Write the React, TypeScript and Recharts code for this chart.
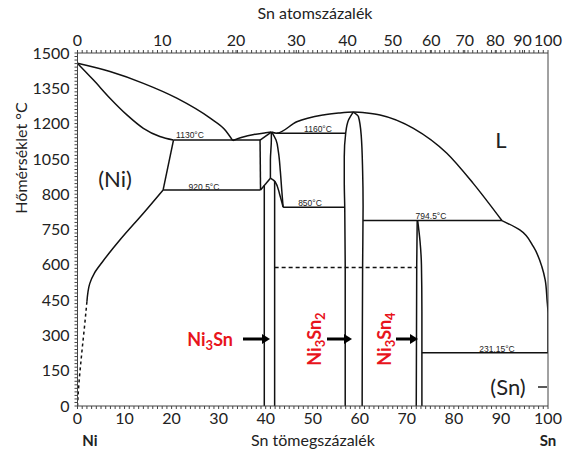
import React from 'react'
import { ComposedChart, Line, XAxis, YAxis } from 'recharts'

// x = Sn weight %, t = temperature in °C
const niLiquidus = [[0, 1456], [6.9, 1421], [14.0, 1371], [21.1, 1308], [28.2, 1223], [31.5, 1170], [33.0, 1128]]
const niSolidus = [[0, 1456], [3.4, 1385], [6.9, 1308], [10.5, 1237], [14.0, 1180], [17.5, 1145], [20.4, 1130]]
const eutLiquidus = [[33.0, 1128], [35.0, 1142], [37.5, 1154], [40.0, 1161], [41.2, 1164]]
const eutectic1130 = [[20.4, 1130], [38.8, 1130]]
const solvusTop = [[20.4, 1130], [18.2, 918]]
const eutectoid920 = [[18.2, 918], [38.9, 918]]
const solvusNi = [[18.2, 918], [14.0, 819], [9.0, 705], [5.2, 610], [3.6, 565], [2.6, 520], [2.0, 443]]
const solvusNiDashed = [[2.0, 443], [1.5, 340], [0.9, 224], [0.2, 68], [0, 0]]
const betaLeft = [[38.8, 1130], [38.9, 918]]
const betaTop = [[38.8, 1130], [41.2, 1164]]
const betaInner = [[41.2, 1164], [41.2, 1130], [41.0, 1045], [41.0, 968]]
const betaRight = [[41.3, 1164], [42.2, 1130], [42.7, 1080], [43.1, 1000], [43.4, 920], [43.7, 845]]
const lowPeakLeft = [[38.9, 918], [41.0, 968]]
const lowPeakRight = [[41.0, 968], [42.0, 953], [43.0, 897], [43.7, 845]]
const ni3snLeft = [[39.7, 938], [39.7, 0]]
const ni3snRight = [[41.9, 955], [41.9, 0]]
const domeLiquidus = [[41.2, 1164], [42.3, 1159], [46.6, 1208], [52.2, 1237], [55.5, 1245], [58.6, 1249], [61.5, 1245], [64.3, 1237], [71.4, 1180], [78.5, 1074], [84.1, 946], [90.2, 788]]
const eutectic1160 = [[42.3, 1159], [57.0, 1159]]
const ni3sn2Left = [[58.6, 1249], [57.6, 1215], [57.0, 1159], [56.7, 1060], [56.7, 950], [56.8, 845], [56.9, 600], [56.9, 0]]
const ni3sn2Right = [[58.6, 1249], [59.7, 1230], [60.3, 1150], [60.6, 1000], [60.7, 850], [60.6, 600], [60.5, 0]]
const eutectoid850 = [[43.7, 845], [56.8, 845]]
const peritectic794 = [[60.7, 788], [90.2, 788]]
const ni3sn4Left = [[72.2, 788], [72.1, 600], [72.0, 0]]
const ni3sn4Right = [[72.3, 788], [72.8, 700], [73.1, 600], [73.2, 400], [73.2, 0]]
const snLiquidus = [[90.2, 788], [94.0, 748], [96.9, 677], [98.7, 592], [99.4, 536], [99.8, 450], [100, 394], [100, 226]]
const eutectic231 = [[73.2, 226], [100, 226]]
const dashed600 = [[41.9, 589], [72.0, 589]]

const wtTicks = [0, 10, 20, 30, 40, 50, 60, 70, 80, 90, 100]
const atTickPos = [0, 18.0, 33.7, 46.5, 57.4, 67.0, 75.2, 82.3, 88.8, 94.6, 100]
const atTickLabels = ['0', '10', '20', '30', '40', '50', '60', '70', '80', '90', '100']
const tTicks = [0, 150, 300, 450, 600, 750, 900, 1050, 1200, 1350, 1500]
const tTickLabels = ['0', '150', '300', '450', '600', '750', '800', '1050', '1200', '1350', '1500']

const minorX = Array.from({ length: 101 }, (_, i) => i)
const minorT = Array.from({ length: 101 }, (_, i) => i * 15)

type Seg = { id: string; pts: number[][]; curve: any; dash?: string }
const segments: Seg[] = [
  { id: 'niLiq', pts: niLiquidus, curve: 'monotone' },
  { id: 'niSol', pts: niSolidus, curve: 'monotone' },
  { id: 'eutLiq', pts: eutLiquidus, curve: 'monotone' },
  { id: 'e1130', pts: eutectic1130, curve: 'linear' },
  { id: 'solTop', pts: solvusTop, curve: 'linear' },
  { id: 'e920', pts: eutectoid920, curve: 'linear' },
  { id: 'solNi', pts: solvusNi, curve: 'monotoneY' },
  { id: 'solNiD', pts: solvusNiDashed, curve: 'monotoneY', dash: '3 3' },
  { id: 'bL', pts: betaLeft, curve: 'linear' },
  { id: 'bT', pts: betaTop, curve: 'linear' },
  { id: 'bI', pts: betaInner, curve: 'monotoneY' },
  { id: 'bR', pts: betaRight, curve: 'monotoneY' },
  { id: 'lpL', pts: lowPeakLeft, curve: 'linear' },
  { id: 'lpR', pts: lowPeakRight, curve: 'monotoneY' },
  { id: 'n3L', pts: ni3snLeft, curve: 'linear' },
  { id: 'n3R', pts: ni3snRight, curve: 'linear' },
  { id: 'dome', pts: domeLiquidus, curve: 'monotone' },
  { id: 'e1160', pts: eutectic1160, curve: 'linear' },
  { id: 'n32L', pts: ni3sn2Left, curve: 'monotoneY' },
  { id: 'n32R', pts: ni3sn2Right, curve: 'monotoneY' },
  { id: 'e850', pts: eutectoid850, curve: 'linear' },
  { id: 'p794', pts: peritectic794, curve: 'linear' },
  { id: 'n34L', pts: ni3sn4Left, curve: 'linear' },
  { id: 'n34R', pts: ni3sn4Right, curve: 'monotoneY' },
  { id: 'snLiq', pts: snLiquidus, curve: 'monotoneY' },
  { id: 'e231', pts: eutectic231, curve: 'linear' },
  { id: 'd600', pts: dashed600, curve: 'linear', dash: '4 3' },
]

const font = 'Lato, "Open Sans", sans-serif'
const red = '#e8141c'

const Arrow = ({ x1, x2, y }: { x1: number; x2: number; y: number }) => (
  <g>
    <line x1={x1} y1={y} x2={x2 - 7} y2={y} stroke="#000" strokeWidth={3} />
    <polygon points={`${x2 - 8},${y - 5} ${x2},${y} ${x2 - 8},${y + 5}`} fill="#000" />
  </g>
)

const small = { fontSize: 8.5, fontFamily: '"Liberation Sans Narrow", "Liberation Sans", sans-serif', fill: '#222', textAnchor: 'middle' as const }

export default function App() {
  return (
    <div style={{ position: 'fixed', left: 0, top: 0, width: 573, height: 452, background: '#fff' }}>
      <ComposedChart width={573} height={452} margin={{ top: 23, right: 20, bottom: 16, left: 17.5 }}>
        <XAxis
          xAxisId="wt"
          dataKey="x"
          type="number"
          domain={[0, 100]}
          ticks={minorX}
          interval={0}
          height={30}
          tickSize={3}
          tickMargin={4}
          stroke="#444"
          tick={{ fontSize: 16, fill: '#222', fontFamily: font }}
          tickFormatter={(v: number) => (wtTicks.includes(v) ? String(v) : '')}
          allowDataOverflow
        />
        <XAxis
          xAxisId="at"
          orientation="top"
          dataKey="x"
          type="number"
          domain={[0, 100]}
          ticks={[...atTickPos, ...minorX.filter((v) => !atTickPos.includes(v))]}
          interval={0}
          height={30}
          tickSize={3}
          tickMargin={4}
          stroke="#444"
          tick={{ fontSize: 16, fill: '#222', fontFamily: font }}
          tickFormatter={(v: number) => {
            const i = atTickPos.indexOf(v)
            return i >= 0 ? atTickLabels[i] : ''
          }}
          allowDataOverflow
        />
        <YAxis
          yAxisId="T"
          type="number"
          domain={[0, 1500]}
          ticks={minorT}
          interval={0}
          width={60}
          tickSize={3}
          tickMargin={5}
          stroke="#444"
          tick={{ fontSize: 16, fill: '#222', fontFamily: font }}
          tickFormatter={(v: number) => {
            const i = tTicks.indexOf(v)
            return i >= 0 ? tTickLabels[i] : ''
          }}
          allowDataOverflow
        />
        <YAxis
          yAxisId="R"
          orientation="right"
          type="number"
          domain={[0, 1500]}
          ticks={minorT}
          interval={0}
          width={5}
          tickSize={3}
          stroke="#444"
          tick={false}
          allowDataOverflow
        />
        {segments.map((s) => (
          <Line
            key={s.id}
            xAxisId="wt"
            yAxisId="T"
            data={s.pts.map(([x, t]) => ({ x, t }))}
            dataKey="t"
            type={s.curve}
            stroke="#111"
            strokeWidth={1.5}
            strokeDasharray={s.dash}
            dot={false}
            activeDot={false}
            isAnimationActive={false}
          />
        ))}
      </ComposedChart>
      <svg width={573} height={452} style={{ position: 'absolute', left: 0, top: 0, pointerEvents: 'none' }}>
        <text x={315} y={19} fontSize={16} fontFamily={font} fill="#222" textAnchor="middle">Sn atomszázalék</text>
        <text x={313} y={446} fontSize={16} fontFamily={font} fill="#222" textAnchor="middle">Sn tömegszázalék</text>
        <text transform="translate(27,158) rotate(-90)" fontSize={16} fontFamily={font} fill="#222" textAnchor="middle">Hőmérséklet °C</text>
        <text x={90} y={446} fontSize={15} fontWeight="bold" fontFamily={font} fill="#222" textAnchor="middle">Ni</text>
        <text x={548} y={446} fontSize={15} fontWeight="bold" fontFamily={font} fill="#222" textAnchor="middle">Sn</text>

        <text x={115} y={187} fontSize={22} fontFamily={font} fill="#222" textAnchor="middle">(Ni)</text>
        <text x={501} y={148} fontSize={22} fontFamily={font} fill="#222" textAnchor="middle">L</text>
        <text x={508} y={395} fontSize={22} fontFamily={font} fill="#222" textAnchor="middle">(Sn)</text>
        <line x1={538} y1={387} x2={547} y2={387} stroke="#222" strokeWidth={1.5} />

        <text x={190} y={138} {...small}>1130°C</text>
        <text x={204} y={190} {...small}>920.5°C</text>
        <text x={318} y={132} {...small}>1160°C</text>
        <text x={310} y={206} {...small}>850°C</text>
        <text x={431} y={219} {...small}>794.5°C</text>
        <text x={497} y={352} {...small}>231.15°C</text>

        <text x={233} y={346} fontSize={18} fontWeight="bold" fontFamily={font} fill={red} textAnchor="end">
          Ni<tspan fontSize={13} dy={4}>3</tspan><tspan dy={-4}>Sn</tspan>
        </text>
        <Arrow x1={243} x2={270} y={339} />
        <text transform="translate(321,339) rotate(-90)" fontSize={18} fontWeight="bold" fontFamily={font} fill={red} textAnchor="middle">
          Ni<tspan fontSize={13} dy={4}>3</tspan><tspan dy={-4}>Sn</tspan><tspan fontSize={13} dy={4}>2</tspan>
        </text>
        <Arrow x1={327} x2={352} y={339} />
        <text transform="translate(391,339) rotate(-90)" fontSize={18} fontWeight="bold" fontFamily={font} fill={red} textAnchor="middle">
          Ni<tspan fontSize={13} dy={4}>3</tspan><tspan dy={-4}>Sn</tspan><tspan fontSize={13} dy={4}>4</tspan>
        </text>
        <Arrow x1={396} x2={418} y={339} />
      </svg>
    </div>
  )
}
